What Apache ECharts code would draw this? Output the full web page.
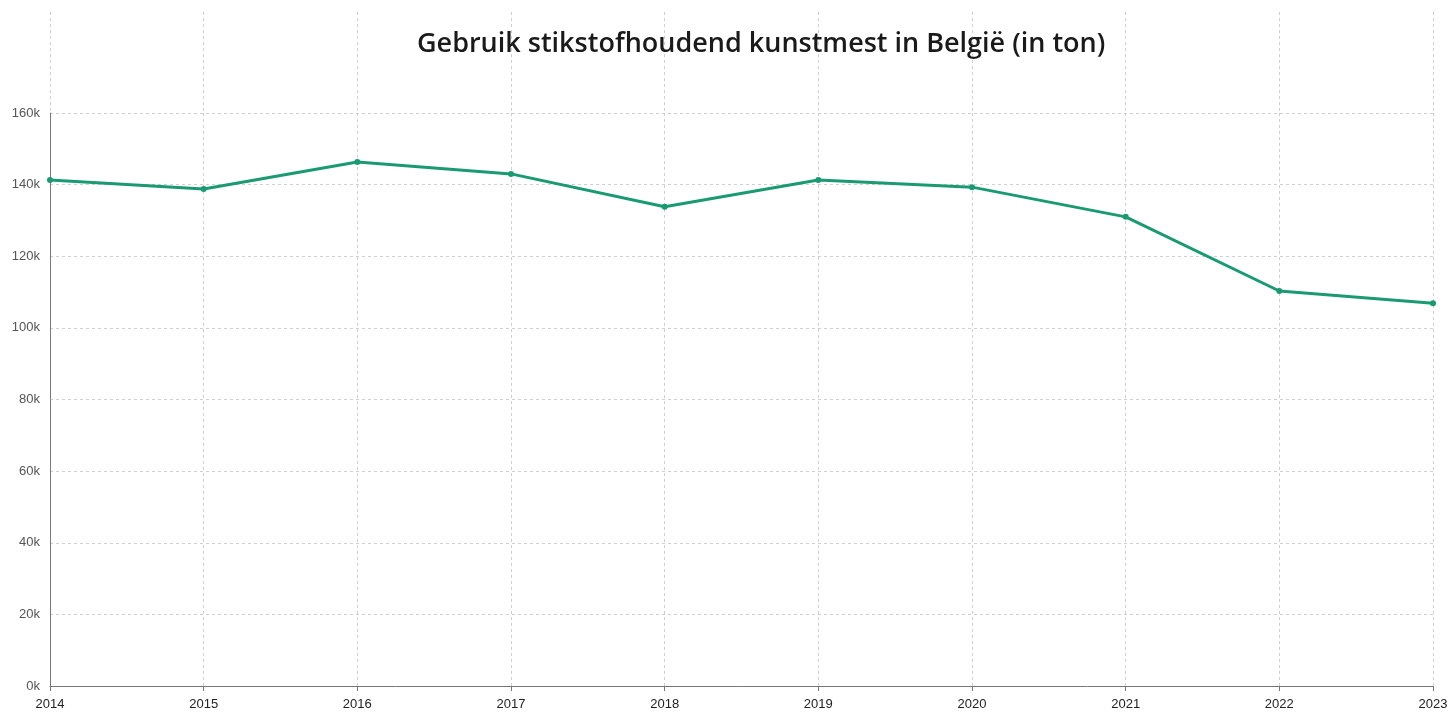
<!DOCTYPE html>
<html>
<head>
<meta charset="utf-8">
<script src="https://cdn.jsdelivr.net/npm/echarts@6/dist/echarts.min.js"></script>
<style>html,body{margin:0;padding:0;background:#fff}#c{width:1451px;height:712px}</style>
</head>
<body>
<div id="c"></div>
<script>
const years = ['2014','2015','2016','2017','2018','2019','2020','2021','2022','2023'];
const values = [141300, 138800, 146300, 143000, 133800, 141300, 139300, 131000, 110300, 106900];
const yTicks = [0, 20000, 40000, 60000, 80000, 100000, 120000, 140000, 160000];

const chart = echarts.init(document.getElementById('c'));
const gridLine = {show: true, lineStyle: {color: '#cfcfcf', type: [3, 3], width: 1}};
chart.setOption({
  animation: false,
  title: {
    text: 'Gebruik stikstofhoudend kunstmest in België (in ton)',
    left: 412, top: 26,
    textStyle: {fontFamily: 'Open Sans', fontSize: 27, fontWeight: 600, color: '#1a1a1a'}
  },
  grid: [
    {left: 50, right: 18, top: 113, bottom: 26},
    {left: 50, right: 18, top: 12, height: 101}
  ],
  xAxis: [
    {
      type: 'category', data: years, boundaryGap: false, gridIndex: 0,
      axisLine: {lineStyle: {color: '#777'}},
      axisTick: {show: true, alignWithLabel: true, lineStyle: {color: '#777'}},
      axisLabel: {color: '#222', fontFamily: 'Liberation Sans', fontSize: 13, margin: 12},
      splitLine: gridLine
    },
    {
      type: 'category', data: years, boundaryGap: false, gridIndex: 1,
      axisLine: {show: false}, axisTick: {show: false}, axisLabel: {show: false},
      splitLine: gridLine
    }
  ],
  yAxis: [
    {
      type: 'value', min: 0, max: yTicks[yTicks.length - 1], interval: 20000, gridIndex: 0,
      axisLine: {show: true, lineStyle: {color: '#777'}},
      axisTick: {show: false},
      axisLabel: {color: '#555', fontFamily: 'Liberation Sans', fontSize: 13, margin: 10,
        formatter: v => (v / 1000) + 'k'},
      splitLine: gridLine
    },
    {type: 'value', gridIndex: 1, show: false, splitLine: {show: false}}
  ],
  series: [{
    type: 'line', data: values, xAxisIndex: 0, yAxisIndex: 0,
    symbol: 'circle', symbolSize: 6, showSymbol: true,
    lineStyle: {color: '#1a9a72', width: 3},
    itemStyle: {color: '#1a9a72'}
  }]
});
</script>
</body>
</html>
